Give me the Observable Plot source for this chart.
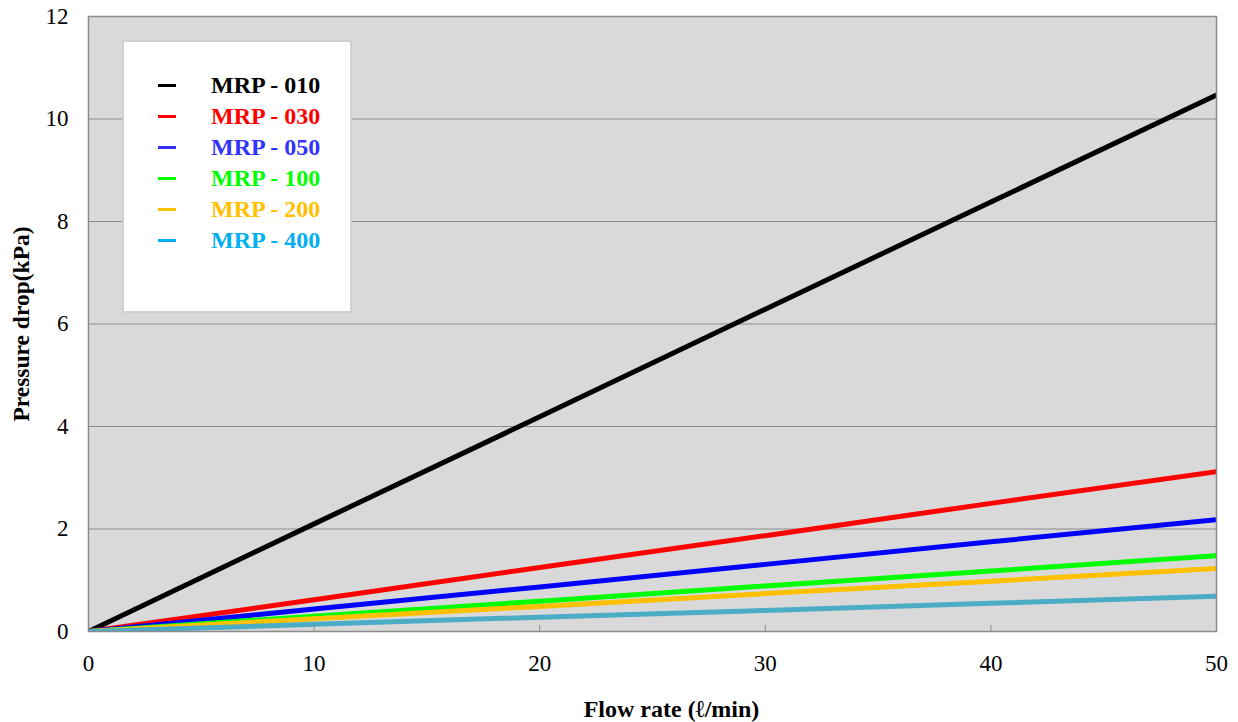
<!DOCTYPE html>
<html>
<head>
<meta charset="utf-8">
<script src="https://cdn.jsdelivr.net/npm/d3@7"></script>
<script src="https://cdn.jsdelivr.net/npm/@observablehq/plot@0.6"></script>
<style>
  html, body { margin: 0; padding: 0; background: #fff; }
  #wrap { position: relative; width: 1238px; height: 722px; font-family: "Liberation Serif", "Times New Roman", serif; color: #000; }
  #legend { position: absolute; left: 122px; top: 40px; width: 226px; height: 241px; background: #fff; border: 2px solid #d0d0d0; padding-top: 28px; box-sizing: content-box; }
  .row { display: flex; align-items: center; height: 31px; line-height: 31px; }
  .sw { width: 18px; height: 3px; margin-left: 34px; }
  .lb { margin-left: 35px; font-weight: bold; font-size: 24px; white-space: nowrap; }
</style>
</head>
<body>
<div id="wrap"><div id="chart"></div><div id="legend"></div></div>
<script>
const flow = [0, 10, 20, 30, 40, 50];
const seriesNames = ["MRP - 010", "MRP - 030", "MRP - 050", "MRP - 100", "MRP - 200", "MRP - 400"];
const mrp010 = [0, 2.10, 4.19, 6.29, 8.38, 10.47];
const mrp030 = [0, 0.62, 1.25, 1.87, 2.50, 3.12];
const mrp050 = [0, 0.44, 0.87, 1.31, 1.75, 2.18];
const mrp100 = [0, 0.30, 0.59, 0.89, 1.18, 1.48];
const mrp200 = [0, 0.25, 0.49, 0.74, 0.98, 1.23];
const mrp400 = [0, 0.14, 0.28, 0.41, 0.55, 0.69];
const seriesValues = [mrp010, mrp030, mrp050, mrp100, mrp200, mrp400];
const lineColors = ["#000000", "#ff0000", "#0000ff", "#00ff00", "#ffc000", "#4bacc6"];
const legendColors = ["#000000", "#ff0000", "#3333ff", "#00ff00", "#ffc000", "#00b0f0"];
const xTicks = [0, 10, 20, 30, 40, 50];
const yTicks = [0, 2, 4, 6, 8, 10, 12];
const innerXTicks = [10, 20, 30, 40];
const gridYTicks = [2, 4, 6, 8, 10];

const data = seriesNames.flatMap((s, i) => flow.map((f, j) => ({series: s, flow: f, value: seriesValues[i][j]})));

const chart = Plot.plot({
  width: 1238,
  height: 722,
  marginLeft: 88,
  marginRight: 22,
  marginTop: 16,
  marginBottom: 91,
  style: {fontFamily: '"Liberation Serif", "Times New Roman", serif', fontSize: "23px", color: "#000", background: "#fff"},
  x: {domain: [0, 50]},
  y: {domain: [0, 12]},
  color: {domain: seriesNames, range: lineColors},
  marks: [
    Plot.frame({fill: "#d9d9d9"}),
    Plot.gridY(gridYTicks, {stroke: "#8c8c8c", strokeOpacity: 1, strokeWidth: 1}),
    Plot.line(data, {x: "flow", y: "value", z: "series", stroke: "series", strokeWidth: 5, strokeLinecap: "butt", clip: true}),
    Plot.ruleX(innerXTicks, {x: d => d, y1: 0, y2: 0.12, stroke: "#8c8c8c", strokeWidth: 1}),
    Plot.frame({stroke: "#8c8c8c", strokeWidth: 1.5}),
    Plot.axisX(xTicks, {tickSize: 0, tickPadding: 23, label: null, tickFormat: d => String(d)}),
    Plot.axisY(yTicks, {tickSize: 0, tickPadding: 20, label: null, tickFormat: d => String(d)}),
    Plot.text(["Flow rate (ℓ/min)"], {frameAnchor: "bottom", textAnchor: "middle", lineAnchor: "middle", dy: 78, dx: 19, text: d => d, fontWeight: "bold", fontSize: 24, fill: "#000"}),
    Plot.text(["Pressure drop(kPa)"], {frameAnchor: "left", textAnchor: "middle", lineAnchor: "middle", dx: -67, rotate: -90, text: d => d, fontWeight: "bold", fontSize: 23.5, fill: "#000"})
  ]
});
document.getElementById("chart").appendChild(chart);

const legend = document.getElementById("legend");
seriesNames.forEach((s, i) => {
  const row = document.createElement("div");
  row.className = "row";
  const sw = document.createElement("div");
  sw.className = "sw";
  sw.style.background = legendColors[i];
  const lb = document.createElement("div");
  lb.className = "lb";
  lb.style.color = legendColors[i];
  lb.textContent = s;
  row.appendChild(sw);
  row.appendChild(lb);
  legend.appendChild(row);
});
</script>
</body>
</html>
